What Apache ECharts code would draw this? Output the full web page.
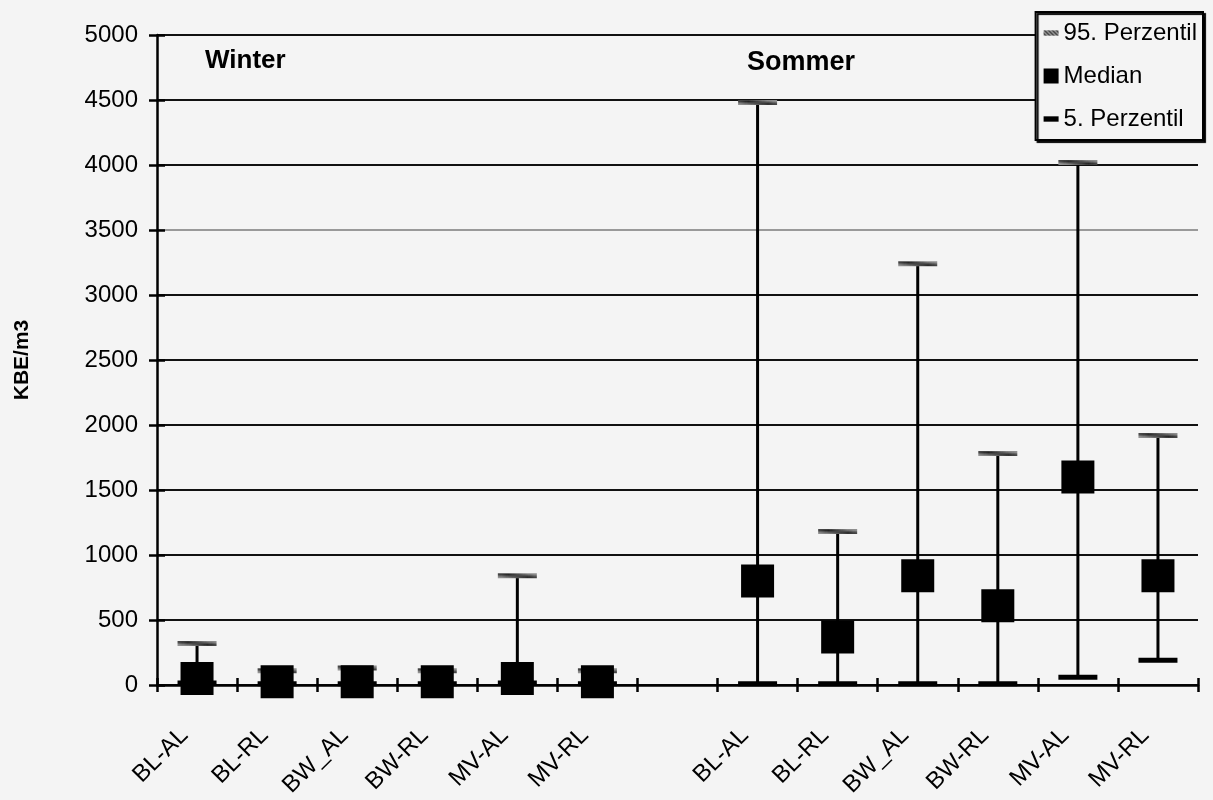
<!DOCTYPE html>
<html>
<head>
<meta charset="utf-8">
<script src="https://cdn.jsdelivr.net/npm/echarts@6/dist/echarts.min.js"></script>
<style>
  html, body { margin: 0; padding: 0; background: #f4f4f4; }
  #chart { width: 1213px; height: 800px; }
</style>
</head>
<body>
<div id="chart"></div>
<script>
// ---- data ----
const categories = ['BL-AL', 'BL-RL', 'BW_AL', 'BW-RL', 'MV-AL', 'MV-RL', '',
                    'BL-AL', 'BL-RL', 'BW_AL', 'BW-RL', 'MV-AL', 'MV-RL'];
const p95    = [320, 110, 130, 110, 840, 110, null, 4480, 1180, 3240, 1780, 4020, 1920];
const median = [50, 25, 25, 25, 50, 25, null, 800, 370, 840, 610, 1600, 840];
const p5     = [15, 10, 10, 10, 15, 10, null, 10, 10, 10, 10, 60, 190];
const seasonLabels = ['Winter', 'Sommer'];
const yTicks = { min: 0, max: 5000, interval: 500 };
const yName = 'KBE/m3';
const seriesNames = ['95. Perzentil', 'Median', '5. Perzentil'];

// ---- hatch pattern ----
const pc = document.createElement('canvas');
pc.width = 4; pc.height = 4;
const g = pc.getContext('2d');
g.fillStyle = '#b8b8b8'; g.fillRect(0, 0, 4, 4);
g.strokeStyle = '#222'; g.lineWidth = 1.4;
g.beginPath(); g.moveTo(0, 0); g.lineTo(4, 4); g.moveTo(-1, 3); g.lineTo(1, 5); g.moveTo(3, -1); g.lineTo(5, 1); g.stroke();
const hatch = { image: pc, repeat: 'repeat' };

const FONT = 'Liberation Sans, Arial, sans-serif';

const toPts = arr => arr.map((v, i) => v == null ? null : [i, v]).filter(Boolean);
const whiskerData = categories.map((c, i) => p95[i] == null ? null : [i, p5[i], p95[i]]).filter(Boolean);

const chart = echarts.init(document.getElementById('chart'), null, { renderer: 'canvas' });
chart.setOption({
  backgroundColor: '#f4f4f4',
  animation: false,
  title: [
    { text: seasonLabels[0], left: 205, top: 48, padding: 0,
      textStyle: { fontSize: 26, fontWeight: 'bold', color: '#000', fontFamily: FONT } },
    { text: seasonLabels[1], left: 747, top: 49, padding: 0,
      textStyle: { fontSize: 27, fontWeight: 'bold', color: '#000', fontFamily: FONT } }
  ],
  legend: {
    orient: 'vertical', right: 10, top: 12,
    backgroundColor: '#f4f4f4', borderColor: '#000', borderWidth: 2,
    shadowColor: '#000', shadowOffsetX: 2, shadowOffsetY: 2, shadowBlur: 1,
    padding: [9, 6, 9, 8], itemGap: 19, itemWidth: 15, itemHeight: 15,
    textStyle: { fontSize: 24, color: '#000', fontFamily: FONT },
    data: [
      { name: seriesNames[0], icon: 'path://M0,0h14v5h-14z' },
      { name: seriesNames[1], icon: 'rect' },
      { name: seriesNames[2], icon: 'path://M0,0h14v5h-14z' }
    ]
  },
  grid: { left: 157, right: 15, top: 35, bottom: 115, containLabel: false },
  xAxis: [{
    type: 'category', data: categories, boundaryGap: true,
    axisLine: { lineStyle: { color: '#000', width: 2.5 } },
    axisTick: { show: true, interval: 0, length: 7, lineStyle: { color: '#000', width: 2.5 } },
    axisLabel: { interval: 0, rotate: 45, margin: 34, fontSize: 24, color: '#000', fontFamily: FONT,
                 padding: [0, 18, 0, 0] },
    splitLine: { show: false }
  }, {
    type: 'category', data: categories, boundaryGap: true, position: 'bottom',
    axisLine: { show: false },
    axisTick: { show: true, inside: true, interval: 0, length: 7, lineStyle: { color: '#000', width: 2.5 } },
    axisLabel: { show: false }, splitLine: { show: false }
  }],
  yAxis: [{
    type: 'value', min: yTicks.min, max: yTicks.max, interval: yTicks.interval,
    name: yName, nameLocation: 'middle', nameGap: 124, nameRotate: 90,
    nameTextStyle: { fontSize: 21, fontWeight: 'bold', color: '#000', fontFamily: FONT },
    axisLine: { show: true, lineStyle: { color: '#000', width: 2.5 } },
    axisTick: { show: true, length: 8, lineStyle: { color: '#000', width: 2.5 } },
    axisLabel: { fontSize: 24, color: '#000', margin: 19, fontFamily: FONT, formatter: v => String(v) },
    splitLine: { show: true, lineStyle: { width: 1.8,
      color: ['#111', '#111', '#111', '#111', '#111', '#111', '#111', '#999', '#111', '#111', '#111'] } }
  }, {
    type: 'value', min: yTicks.min, max: yTicks.max, interval: yTicks.interval, position: 'left',
    axisLine: { show: false },
    axisTick: { show: true, inside: true, length: 8, lineStyle: { color: '#000', width: 2.5 } },
    axisLabel: { show: false }, splitLine: { show: false }
  }],
  series: [
    {
      type: 'custom', name: 'whisker', z: 2,
      renderItem: (params, api) => {
        const lo = api.coord([api.value(0), api.value(1)]);
        const hi = api.coord([api.value(0), api.value(2)]);
        return { type: 'line', shape: { x1: lo[0], y1: lo[1], x2: hi[0], y2: hi[1] },
                 style: { stroke: '#000', lineWidth: 3 } };
      },
      encode: { x: 0, y: [1, 2] },
      data: whiskerData, silent: true
    },
    {
      type: 'scatter', name: seriesNames[0], z: 3, symbol: 'rect', symbolSize: [39, 5],
      itemStyle: { color: hatch, opacity: 1 }, data: toPts(p95)
    },
    {
      type: 'scatter', name: seriesNames[2], z: 3, symbol: 'rect', symbolSize: [39, 5],
      itemStyle: { color: '#000', opacity: 1 }, data: toPts(p5)
    },
    {
      type: 'scatter', name: seriesNames[1], z: 4, symbol: 'rect', symbolSize: [33, 33],
      itemStyle: { color: '#000', opacity: 1 }, data: toPts(median)
    }
  ]
});
</script>
</body>
</html>
